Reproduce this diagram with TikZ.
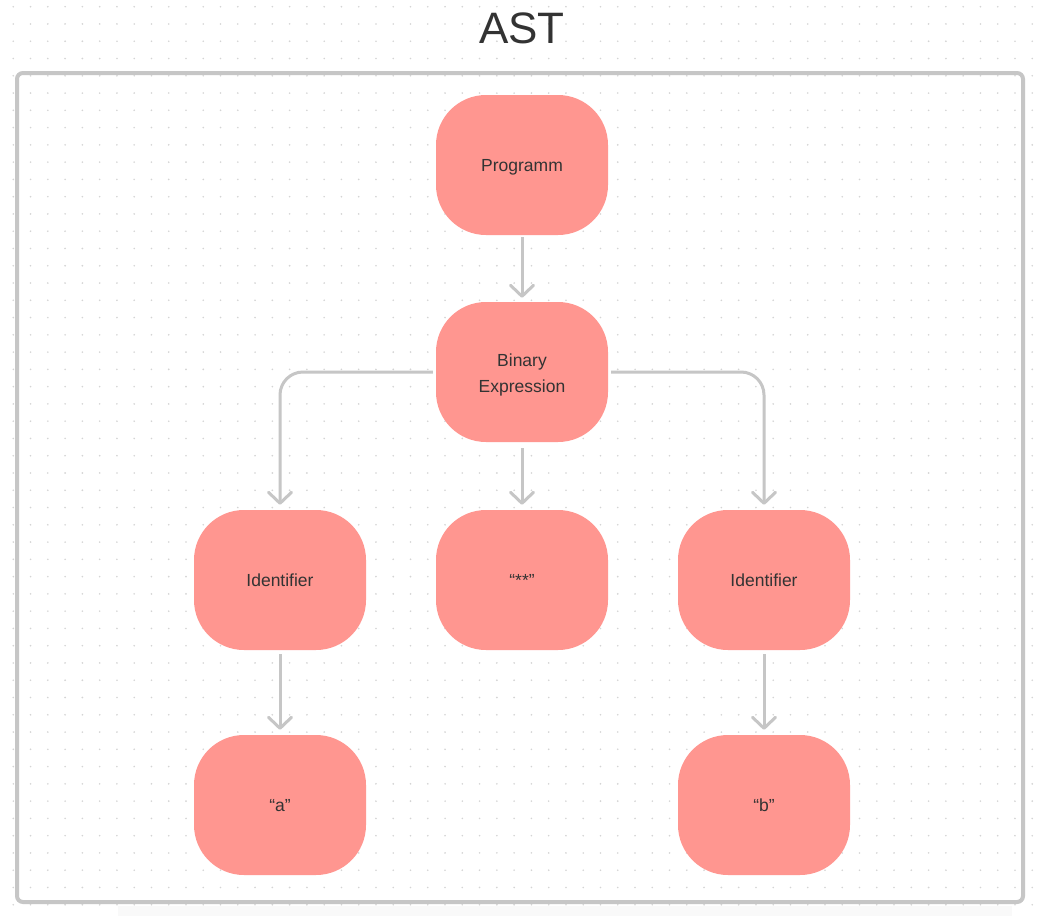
\documentclass[tikz,border=0pt]{standalone}
\usepackage{fontspec}
\setmainfont{Liberation Sans}
\usetikzlibrary{arrows.meta}
\definecolor{nodefill}{HTML}{FF9690}
\definecolor{edgegray}{HTML}{C6C6C6}
\definecolor{txt}{HTML}{333333}
\definecolor{dotgray}{HTML}{D4D4D4}
\begin{document}
\begin{tikzpicture}[x=1pt,y=-1pt,
  astnode/.style={fill=nodefill, draw=none, rounded corners=50pt, minimum width=172pt, minimum height=140pt, inner sep=0pt, align=center, text=txt, font=\fontsize{17.5}{25.6}\selectfont},
  oneline/.style={astnode, text height=13.5pt, text depth=0pt},
  arr/.style={draw=edgegray, line width=3pt, -{Straight Barb[length=11pt,width=23pt,line width=3pt,round]}},
  frame/.style={draw=edgegray, line width=4pt, rounded corners=6pt}]
\useasboundingbox (0,0) rectangle (1047,916);
\fill[white] (0,0) rectangle (1047,916);
% dotted background
\foreach \i in {0,...,59}{
  \foreach \j in {0,...,52}{
    \fill[dotgray] (13.3+\i*17.27, 6.7+\j*17.27) circle (0.9pt);
  }
}
% faint shadow below frame
\fill[black!2.5] (118,906) rectangle (1012,916);
% frame
\draw[frame] (17,73) rectangle (1023,902);
% title
\node[text=txt, font=\fontsize{44}{50}\selectfont] (title) at (522,28) {AST};
% nodes
\node[oneline] (prog) at (522,165) {Programm};
\node[astnode, text height=40pt, text depth=0pt] (bin) at (522,372) {Binary\\Expression};
\node[oneline] (idl) at (280,580) {Identifier};
\node[oneline] (star) at (522,580) {“**”};
\node[oneline] (idr) at (764,580) {Identifier};
\node[oneline] (a) at (280,805) {“a”};
\node[oneline] (b) at (764,805) {“b”};
% connectors
\draw[arr] ([yshift=-2pt]prog.south) -- ([yshift=4pt]bin.north);
\draw[arr, rounded corners=23pt] ([xshift=-3pt]bin.west) -| ([yshift=5pt]idl.north);
\draw[arr, rounded corners=23pt] ([xshift=3pt]bin.east) -| ([yshift=5pt]idr.north);
\draw[arr] ([yshift=-6pt]bin.south) -- ([yshift=5pt]star.north);
\draw[arr] ([yshift=-4pt]idl.south) -- ([yshift=5pt]a.north);
\draw[arr] ([yshift=-4pt]idr.south) -- ([yshift=5pt]b.north);
\end{tikzpicture}
\end{document}
